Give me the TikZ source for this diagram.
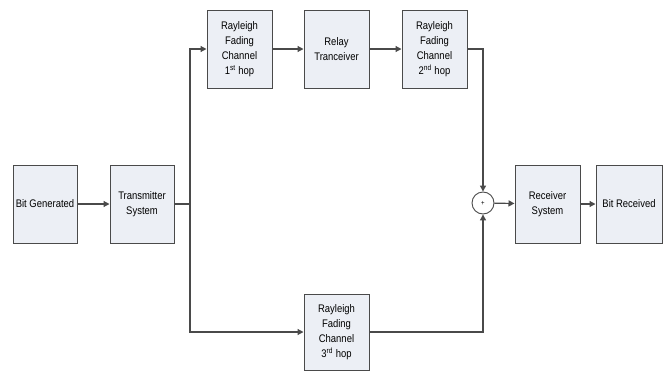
\documentclass[tikz,border=0pt]{standalone}
\usepackage{fontspec}
\setmainfont{Liberation Sans}[FakeStretch=0.86]
\usetikzlibrary{
    arrows.meta,
    positioning
}
\definecolor{boxfill}{HTML}{ECEFF5}
\definecolor{linegray}{HTML}{4A4A4A}

\begin{document}
\begin{tikzpicture}[x=1pt,y=-1pt,
    block/.style={draw=linegray,fill=boxfill,line width=1pt,minimum width=65pt,
        minimum height=78pt,align=center,font=\fontsize{11}{15}\selectfont,inner sep=1pt},
    summer/.style={draw=linegray,fill=white,circle,line width=0.9pt,minimum size=22pt,
        inner sep=0pt,font=\fontsize{7}{8}\selectfont},
    link/.style={linegray,line width=1.2pt,-{Triangle[width=6pt,length=6pt]}},
    wire/.style={linegray,line width=1.2pt}
]
\useasboundingbox (0,0) rectangle (664,372);

% Blocks
\node[block,minimum width=64pt] (bitgen) at (45,204) {Bit Generated};
\node[block,minimum width=64pt] (tx) at (142,204) {Transmitter\\System};
\node[block] (ray1) at (239.5,49) {Rayleigh\\Fading\\Channel\\1\textsuperscript{st} hop};
\node[block] (relay) at (336.5,49) {Relay\\Tranceiver};
\node[block] (ray2) at (434.5,49) {Rayleigh\\Fading\\Channel\\2\textsuperscript{nd} hop};
\node[block,minimum height=76pt] (ray3) at (336.5,332) {Rayleigh\\Fading\\Channel\\3\textsuperscript{rd} hop};
\node[summer] (sum) at (483,203) {+};
\node[block] (rx) at (547.5,204) {Receiver\\System};
\node[block,minimum width=66pt] (bitrx) at (629,204) {Bit Received};

% Branch point
\coordinate (split) at (190,204);

% Connections
\draw[link] (bitgen) -- (tx);
\draw[wire] (tx) -- (split);
\draw[link] (split) |- (ray1.west);
\draw[link] (split) |- (ray3.west);
\draw[link] (ray1) -- (relay);
\draw[link] (relay) -- (ray2);
\draw[link] (ray2.east) -| (sum.north);
\draw[link] (ray3.east) -| (sum.south);
\draw[link] (sum) -- (rx);
\draw[link] (rx) -- (bitrx);

\end{tikzpicture}
\end{document}
